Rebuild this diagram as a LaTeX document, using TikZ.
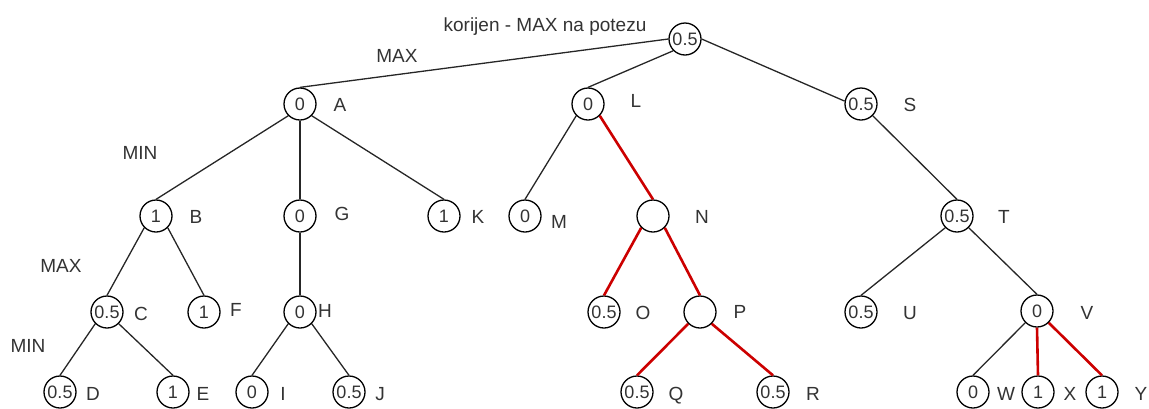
\documentclass[tikz,border=0pt]{standalone}
\usepackage{fontspec}
\setmainfont{Liberation Sans}
\definecolor{txt}{HTML}{333333}
\definecolor{redline}{HTML}{CC0000}
\tikzset{
  st/.style={circle,draw=black,line width=1.3pt,minimum size=32pt,inner sep=0pt,
    font=\fontsize{18}{20}\selectfont,text=txt},
  lbl/.style={anchor=base,inner sep=0pt,font=\fontsize{19}{21}\selectfont,text=txt},
  edge/.style={draw=black!85,line width=1.3pt},
  redge/.style={draw=redline,line width=2.6pt},
}
\begin{document}
\begin{tikzpicture}[x=1pt,y=-1pt]
\useasboundingbox (0,0) rectangle (1149,408);
% nodes
\node[st] (root) at (685,39) {0.5};
\node[st] (A) at (300,104) {0};
\node[st] (L) at (588,104) {0};
\node[st] (S) at (861,104) {0.5};
\node[st] (B) at (156,216) {1};
\node[st] (G) at (300,216) {0};
\node[st] (K) at (444,216) {1};
\node[st] (M) at (525,216) {0};
\node[st] (N) at (653,216) {};
\node[st] (T) at (957,216) {0.5};
\node[st] (C) at (107,312) {0.5};
\node[st] (F) at (204,312) {1};
\node[st] (H) at (300,312) {0};
\node[st] (O) at (604,312) {0.5};
\node[st] (P) at (700,312) {};
\node[st] (U) at (861,312) {0.5};
\node[st] (V) at (1037,311) {0};
\node[st] (D) at (60,392) {0.5};
\node[st] (E) at (173,392) {1};
\node[st] (I) at (252,392) {0};
\node[st] (J) at (349,392) {0.5};
\node[st] (Q) at (637,392) {0.5};
\node[st] (R) at (773,392) {0.5};
\node[st] (W) at (973,392) {0};
\node[st] (X) at (1038,392) {1};
\node[st] (Y) at (1102,392) {1};
% labels
\node[lbl] (title) at (545,31) {korijen - MAX na potezu};
\node[lbl] (max1) at (397,62) {MAX};
\node[lbl] (min1) at (140,159) {MIN};
\node[lbl] (max2) at (61,272) {MAX};
\node[lbl] (min2) at (28,352) {MIN};
\node[lbl] (lA) at (340,111) {A};
\node[lbl] (lL) at (636,107) {L};
\node[lbl] (lS) at (910,111) {S};
\node[lbl] (lB) at (196,223) {B};
\node[lbl] (lG) at (342,220) {G};
\node[lbl] (lK) at (478,223) {K};
\node[lbl] (lM) at (559,228) {M};
\node[lbl] (lN) at (702,223) {N};
\node[lbl] (lT) at (1004,223) {T};
\node[lbl] (lC) at (141,320) {C};
\node[lbl] (lF) at (236,316) {F};
\node[lbl] (lH) at (325,317) {H};
\node[lbl] (lO) at (643,319) {O};
\node[lbl] (lP) at (740,318) {P};
\node[lbl] (lU) at (910,319) {U};
\node[lbl] (lV) at (1087,319) {V};
\node[lbl] (lD) at (93,400) {D};
\node[lbl] (lE) at (203,400) {E};
\node[lbl] (lI) at (283,400) {I};
\node[lbl] (lJ) at (380,400) {J};
\node[lbl] (lQ) at (676,400) {Q};
\node[lbl] (lR) at (813,400) {R};
\node[lbl] (lW) at (1006,400) {W};
\node[lbl] (lX) at (1070,400) {X};
\node[lbl] (lY) at (1141,400) {Y};
% edges
\path[edge] (root.west) -- (A.north);
\path[edge] (root.south west) -- (L.north);
\path[edge] (root.east) -- (S.170);
\path[edge] (A.south west) -- (B.north);
\path[edge] (A.south) -- (G.north);
\path[edge] (A.south east) -- (K.north);
\path[edge] (L.south west) -- (M.north);
\path[redge] (L.south east) -- (N.north);
\path[edge] (S.south east) -- (T.north);
\path[edge] (B.south west) -- (C.north);
\path[edge] (B.south east) -- (F.north);
\path[edge] (G.south) -- (H.north);
\path[redge] (N.south west) -- (O.north);
\path[redge] (N.south east) -- (P.north);
\path[edge] (T.south west) -- (U.north);
\path[edge] (T.south east) -- (V.north);
\path[edge] (C.south west) -- (D.north);
\path[edge] (C.south east) -- (E.north);
\path[edge] (H.south west) -- (I.north);
\path[edge] (H.south east) -- (J.north);
\path[redge] (P.south west) -- (Q.north);
\path[redge] (P.south east) -- (R.north);
\path[edge] (V.south west) -- (W.north);
\path[redge] (V.south) -- (X.north);
\path[redge] (V.south east) -- (Y.north);
\end{tikzpicture}
\end{document}
